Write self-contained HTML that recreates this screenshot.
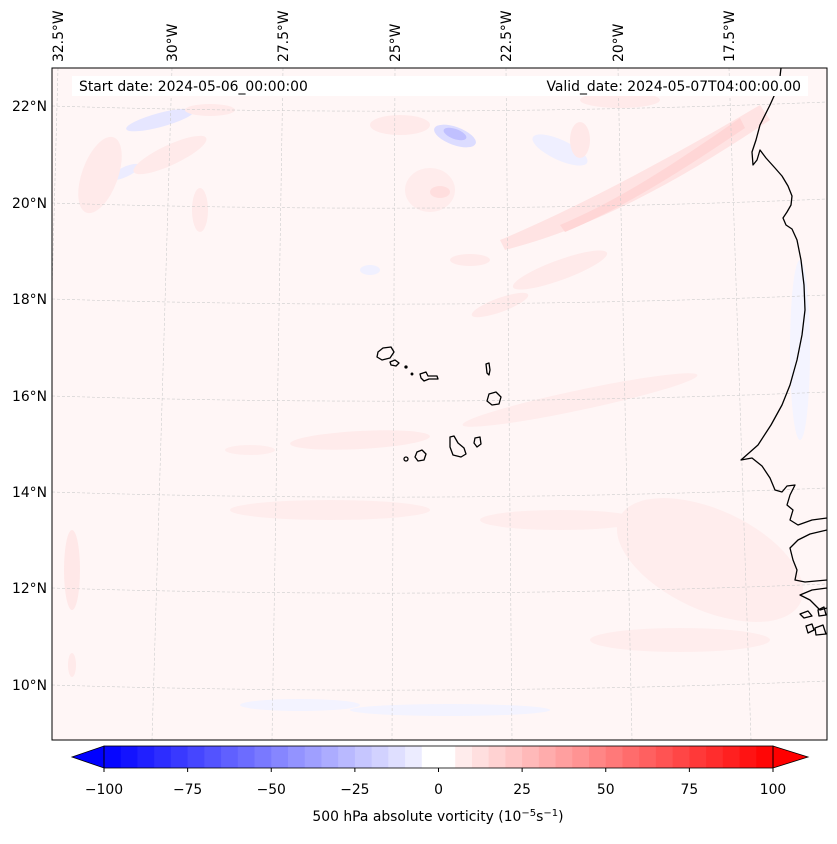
<!DOCTYPE html>
<html><head><meta charset="utf-8">
<style>
body{margin:0;background:#fff;width:837px;height:839px;overflow:hidden;font-family:"Liberation Sans","DejaVu Sans",sans-serif;}
svg text{font-family:"DejaVu Sans","Liberation Sans",sans-serif;font-size:13.9px;fill:#000;}
</style></head>
<body>
<svg id="fig" width="837" height="839" viewBox="0 0 837 839" xmlns="http://www.w3.org/2000/svg">
<defs><clipPath id="mapclip"><rect x="52" y="68" width="775" height="672"/></clipPath></defs>
<g clip-path="url(#mapclip)">
<rect x="52" y="68" width="775" height="672" fill="#fff6f6"/>
<g>
<path d="M500,240 C560,215 650,170 760,105 L770,120 C680,180 600,225 505,250 Z" fill="#ffe3e3"/>
<path d="M560,225 C620,200 680,160 740,118 L745,128 C690,165 630,205 565,232 Z" fill="#ffd6d6"/>
<ellipse cx="455" cy="136" rx="22" ry="9" fill="#dcdcff" transform="rotate(20 455 136)"/>
<ellipse cx="455" cy="134" rx="12" ry="5" fill="#c0c0ff" transform="rotate(20 455 134)"/>
<ellipse cx="160" cy="120" rx="35" ry="7" fill="#e6e6ff" transform="rotate(-15 160 120)"/>
<ellipse cx="125" cy="172" rx="16" ry="5" fill="#ececff" transform="rotate(-25 125 172)"/>
<ellipse cx="100" cy="175" rx="18" ry="40" fill="#ffeaea" transform="rotate(20 100 175)"/>
<ellipse cx="170" cy="155" rx="40" ry="10" fill="#ffeaea" transform="rotate(-25 170 155)"/>
<ellipse cx="200" cy="210" rx="8" ry="22" fill="#ffeaea"/>
<ellipse cx="210" cy="110" rx="25" ry="6" fill="#ffeaea"/>
<ellipse cx="400" cy="125" rx="30" ry="10" fill="#ffeaea"/>
<ellipse cx="430" cy="190" rx="25" ry="22" fill="#ffecec"/>
<ellipse cx="440" cy="192" rx="10" ry="6" fill="#ffdede"/>
<ellipse cx="560" cy="150" rx="30" ry="10" fill="#efefff" transform="rotate(25 560 150)"/>
<ellipse cx="580" cy="140" rx="10" ry="18" fill="#ffe8e8"/>
<ellipse cx="620" cy="100" rx="40" ry="8" fill="#ffeaea"/>
<ellipse cx="470" cy="260" rx="20" ry="6" fill="#ffeaea"/>
<ellipse cx="560" cy="270" rx="50" ry="10" fill="#ffeaea" transform="rotate(-20 560 270)"/>
<ellipse cx="500" cy="305" rx="30" ry="7" fill="#ffeaea" transform="rotate(-20 500 305)"/>
<ellipse cx="370" cy="270" rx="10" ry="5" fill="#f0f0ff"/>
<ellipse cx="360" cy="440" rx="70" ry="9" fill="#ffebeb" transform="rotate(-3 360 440)"/>
<ellipse cx="580" cy="400" rx="120" ry="10" fill="#ffecec" transform="rotate(-12 580 400)"/>
<ellipse cx="250" cy="450" rx="25" ry="5" fill="#ffeded"/>
<ellipse cx="330" cy="510" rx="100" ry="10" fill="#ffeded"/>
<ellipse cx="560" cy="520" rx="80" ry="10" fill="#ffeded"/>
<ellipse cx="72" cy="570" rx="8" ry="40" fill="#ffe8e8"/>
<ellipse cx="710" cy="560" rx="100" ry="50" fill="#ffeded" transform="rotate(25 710 560)"/>
<ellipse cx="680" cy="640" rx="90" ry="12" fill="#ffeded"/>
<ellipse cx="300" cy="705" rx="60" ry="6" fill="#f3f3ff"/>
<ellipse cx="450" cy="710" rx="100" ry="6" fill="#f3f3ff"/>
<ellipse cx="72" cy="665" rx="4" ry="12" fill="#ffeaea"/>
<ellipse cx="800" cy="350" rx="10" ry="90" fill="#f4f4ff"/>
</g>
<g id="grid" stroke="#cccccc" stroke-width="0.6" stroke-dasharray="3,2" fill="none"></g>
<g stroke="#000" stroke-width="1.3" fill="none" stroke-linejoin="round">
<path d="M781,68 L779,85 L770,105 L760,125 L756,140 L752,152 L753,165 L757,160 L760,150 L766,158 L775,168 L782,176 L788,186 L792,196 L791,205 L787,212 L783,218 L786,225 L792,229 L797,240 L801,260 L804,285 L805,310 L802,335 L797,360 L790,385 L782,405 L771,425 L758,445 L741,460 L752,458 L762,466 L770,478 L775,490 L782,492 L787,486 L795,485 L790,495 L787,505 L793,510 L790,520 L798,525 L812,520 L827,518 M827,530 L810,534 L798,540 L790,548 L793,560 L797,570 L795,580 L805,582 L827,580 M827,588 L812,590 L800,595 L810,600 L820,610 L827,608"/>
<path d="M800,614 L808,611 L812,616 L804,618 Z M818,610 L824,607 L826,615 L819,616 Z M806,626 L812,624 L814,630 L808,633 Z M815,628 L823,625 L826,634 L816,635 Z"/>
<path d="M378,352 L383,348 L391,347 L394,352 L390,358 L382,360 L377,357 Z"/>
<path d="M390,362 L395,360 L399,363 L396,366 L391,365 Z"/>
<circle cx="406" cy="367" r="1" fill="#000"/><circle cx="412" cy="374" r="0.8" fill="#000"/>
<path d="M420,374 L426,372 L428,376 L437,376 L438,379 L429,379 L424,381 L421,378 Z"/>
<path d="M486,364 L489,363 L490,370 L489,375 L487,373 Z"/>
<path d="M489,394 L496,392 L501,397 L499,404 L492,405 L487,401 Z"/>
<path d="M475,438 L480,437 L481,444 L477,447 L474,443 Z"/>
<path d="M450,437 L454,436 L458,443 L464,448 L466,454 L461,457 L453,455 L450,447 Z"/>
<path d="M417,452 L422,450 L426,454 L424,460 L418,461 L415,457 Z"/>
<circle cx="406" cy="459" r="2"/>
</g>
<rect x="72" y="76" width="736" height="20" fill="#fff"/>
<text x="79" y="91">Start date: 2024-05-06_00:00:00</text>
<text x="801" y="91" text-anchor="end">Valid_date: 2024-05-07T04:00:00.00</text>
</g>
<rect x="52" y="68" width="775" height="672" fill="none" stroke="#000" stroke-width="1"/>
<g id="labels"></g>
<g id="cbar"></g>
<text x="438" y="821" text-anchor="middle">500 hPa absolute vorticity (10<tspan dy="-5" font-size="10">−5</tspan><tspan dy="5">s</tspan><tspan dy="-5" font-size="10">−1</tspan><tspan dy="5">)</tspan></text>
</svg>
<script>
const lonLabels = ["32.5°W","30°W","27.5°W","25°W","22.5°W","20°W","17.5°W"];
const lonTopX = [58,172,283,395,506,618,729];
const lonBotX = [40,152,272,392,512,632,751];
const latLabels = ["22°N","20°N","18°N","16°N","14°N","12°N","10°N"];
const latLeftY = [106,203,299,396,492,588,685];
const cbarTicks = [-100,-75,-50,-25,0,25,50,75,100];
const cbarLevels = [];
for (let v=-100; v<100; v+=5) cbarLevels.push(v);
const NS="http://www.w3.org/2000/svg";
function mk(tag, attrs, parent){const e=document.createElementNS(NS,tag);for(const k in attrs)e.setAttribute(k,attrs[k]);parent.appendChild(e);return e;}
const grid=document.getElementById('grid'), labels=document.getElementById('labels'), cbar=document.getElementById('cbar');
lonLabels.forEach((l,i)=>{
  const ln=mk('line',{x1:lonTopX[i],y1:68,x2:lonBotX[i],y2:740},grid);
  
  
  const t=mk('text',{x:0,y:0,transform:`translate(${lonTopX[i]+5},62) rotate(-90)`},labels);
  
  
  t.textContent=l;
});
latLabels.forEach((l,i)=>{
  const y=latLeftY[i];
  const p=mk('path',{d:`M52,${y} Q440,${y+12} 827,${y-4}`},grid);
  
  
  const t=mk('text',{x:47,y:y+5,'text-anchor':'end'},labels);
  
  
  t.textContent=l;
});
const cx0=104, cx1=773, cy=746, ch=22;
const xs=v=>cx0+(v+100)/200*(cx1-cx0);
function col(v){let r,g,b;if(v<0){const t=1+v/100;r=g=Math.round(255*t);b=255;}else{const t=1-v/100;r=255;g=b=Math.round(255*t);}return `rgb(${r},${g},${b})`;}
cbarLevels.forEach(v=>{
  const c=v+2.5; const cc=Math.abs(c)<5?0:c;
  const r=mk('rect',{x:xs(v),y:cy,width:xs(v+5)-xs(v)+0.5,height:ch,fill:col(cc)},cbar);
  
  
});
const lt=mk('polygon',{points:`${cx0},${cy} ${cx0},${cy+ch} 72,${cy+ch/2}`,fill:'rgb(0,0,255)',stroke:'#000','stroke-width':0.8},cbar);


const rt=mk('polygon',{points:`${cx1},${cy} ${cx1},${cy+ch} 808,${cy+ch/2}`,fill:'rgb(255,0,0)',stroke:'#000','stroke-width':0.8},cbar);


const ob=mk('rect',{x:cx0,y:cy,width:cx1-cx0,height:ch,fill:'none',stroke:'#000','stroke-width':0.8},cbar);


cbarTicks.forEach(v=>{
  const tk=mk('line',{x1:xs(v),y1:cy+ch,x2:xs(v),y2:cy+ch+4,stroke:'#000'},cbar);
  
  
  const t=mk('text',{x:xs(v),y:794,'text-anchor':'middle'},cbar);
  
  
  t.textContent=v<0?'−'+Math.abs(v):String(v);
});
</script>
</body></html>
